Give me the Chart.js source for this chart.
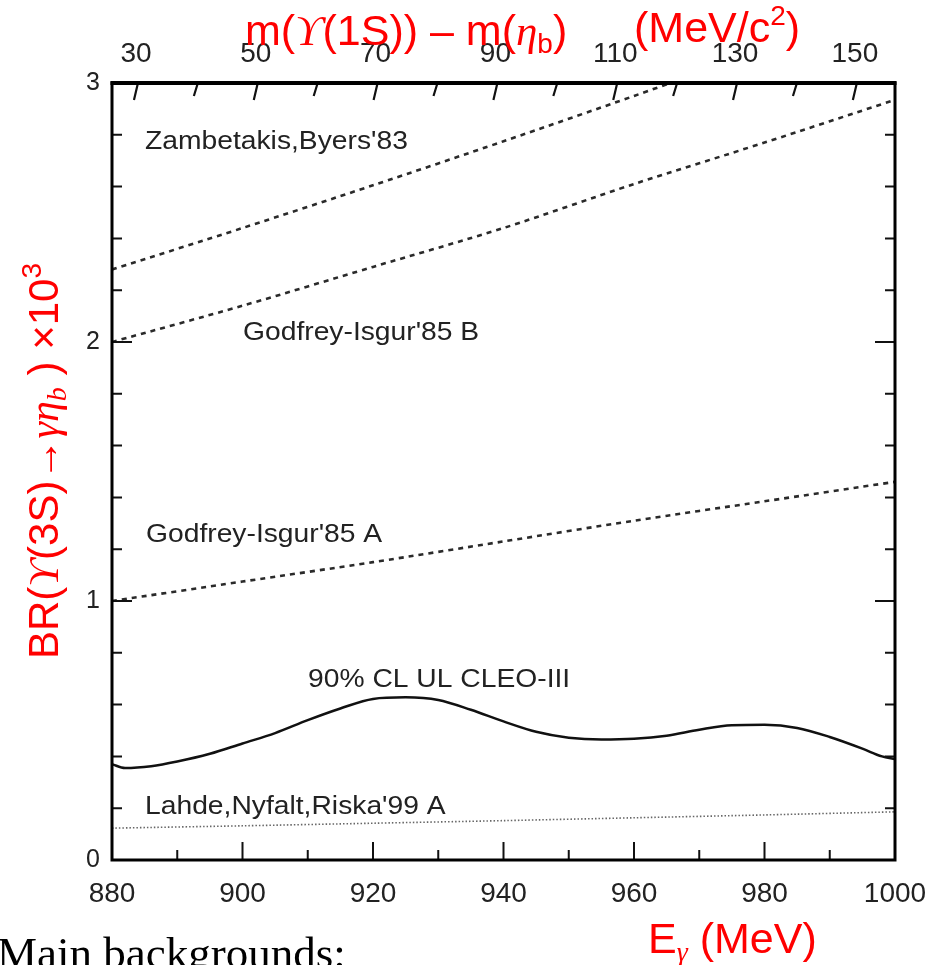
<!DOCTYPE html>
<html>
<head>
<meta charset="utf-8">
<script src="https://cdn.jsdelivr.net/npm/chart.js@4.4.1/dist/chart.umd.min.js"></script>
<style>
  html, body { margin: 0; padding: 0; background: #fff; overflow: hidden; }
  #wrap { position: relative; width: 941px; height: 965px; }
  canvas { position: absolute; left: 0; top: 0; }
  .red { position: absolute; color: #f00; font-family: "Liberation Sans", Arial, sans-serif; font-size: 43px; line-height: 1; white-space: nowrap; }
  .red i { font-family: "Liberation Serif", "Times New Roman", serif; }
  .red sub { font-size: 28px; vertical-align: -8px; line-height: 0; }
  .red sup { font-size: 28px; vertical-align: 17px; line-height: 0; }
  #ylab { left: 44px; top: 461px; font-size: 42px; transform: translate(-50%, -50%) rotate(-90deg); }
  #note { position: absolute; left: -3px; top: 931px; font-family: "Liberation Serif", "Times New Roman", serif; font-size: 45px; line-height: 1; white-space: nowrap; color: #000; }
</style>
</head>
<body>
<div id="wrap">
  <canvas id="brChart" width="941" height="965"></canvas>
  <div class="red" style="left:245px; top:9px;">m(<i>ϒ</i>(1S)) – m(<i>η</i><sub>b</sub>)</div>
  <div class="red" style="left:634px; top:6px;">(MeV/c<sup>2</sup>)</div>
  <div class="red" id="ylab">BR(<i>ϒ</i>(3S)→<i>γη</i><sub><i>b</i></sub> ) ×10<sup>3</sup></div>
  <div class="red" style="left:648px; top:917px;">E<sub><i>γ</i></sub> (MeV)</div>
  <div id="note">Main backgrounds:</div>
</div>
<script>
// photon energy grid for the model predictions (MeV)
const modelE = [880, 900, 920, 940, 960, 980, 1000];
// predicted BR x 10^3
const zambetakis = [2.28, 2.44, 2.605, 2.775, 2.95, 3.13, 3.31];
const godfreyB = [2.0, 2.14, 2.29, 2.44, 2.61, 2.77, 2.935];
const godfreyA = [1.0, 1.075, 1.15, 1.23, 1.31, 1.385, 1.46];
const lahde = [0.123, 0.132, 0.142, 0.152, 0.163, 0.174, 0.186];

// CLEO-III 90% CL upper limit
const cleoE = [880, 882, 886, 890, 895, 900, 905, 910, 915, 920, 925, 930, 935, 940, 945, 950, 955, 960, 965, 970, 975, 980, 985, 990, 995, 998, 1000];
const cleoUL = [0.37, 0.355, 0.362, 0.38, 0.41, 0.45, 0.49, 0.54, 0.585, 0.622, 0.628, 0.618, 0.58, 0.535, 0.495, 0.472, 0.465, 0.468, 0.48, 0.503, 0.52, 0.522, 0.51, 0.475, 0.43, 0.4, 0.39];

// curve labels inside the frame
const curveLabels = [
  { text: "Zambetakis,Byers'83", x: 145, y: 142 },
  { text: "Godfrey-Isgur'85 B", x: 243, y: 333 },
  { text: "Godfrey-Isgur'85 A", x: 146, y: 535 },
  { text: "90% CL UL CLEO-III", x: 308, y: 680 },
  { text: "Lahde,Nyfalt,Riska'99 A", x: 145, y: 807 }
];

const FONT = '"Liberation Sans", Arial, sans-serif';
const INK = '#222';

const toPoints = (xs, ys) => xs.map((x, i) => ({ x, y: ys[i] }));

// frame and inward tick marks
const framePlugin = {
  id: 'frame',
  afterDraw(chart) {
    const { ctx, chartArea: a, scales } = chart;
    const x = scales.x, x2 = scales.x2, y = scales.y;
    ctx.save();
    ctx.strokeStyle = '#111';
    ctx.lineWidth = 2;
    ctx.beginPath();
    for (let v = 880; v <= 1000; v += 10) {
      const px = x.getPixelForValue(v);
      const len = v % 20 === 0 ? 18 : 10;
      ctx.moveTo(px, a.bottom);
      ctx.lineTo(px, a.bottom - len);
    }
    for (let i = 0; i <= 15; i++) {
      const py = y.getPixelForValue(i * 0.2);
      const len = i % 5 === 0 ? 20 : 10;
      ctx.moveTo(a.left, py);
      ctx.lineTo(a.left + len, py);
      ctx.moveTo(a.right, py);
      ctx.lineTo(a.right - len, py);
    }
    ctx.stroke();
    // slanted ticks on the mass-difference axis
    ctx.lineWidth = 2.2;
    ctx.beginPath();
    for (let v = 30; v <= 150; v += 10) {
      const px = x2.getPixelForValue(v);
      const len = v % 20 === 10 ? 17 : 13;
      ctx.moveTo(px + 2, a.top);
      ctx.lineTo(px - 2, a.top + len);
    }
    ctx.stroke();
    ctx.strokeStyle = '#000';
    ctx.lineWidth = 3;
    ctx.strokeRect(a.left, a.top, a.right - a.left, a.bottom - a.top);
    ctx.lineWidth = 4;
    ctx.beginPath();
    ctx.moveTo(a.left - 1.5, a.top);
    ctx.lineTo(a.right + 1.5, a.top);
    ctx.stroke();
    ctx.restore();
  },
  afterDatasetsDraw(chart) {
    const { ctx } = chart;
    ctx.save();
    ctx.fillStyle = INK;
    ctx.font = '25px ' + FONT;
    ctx.textBaseline = 'middle';
    curveLabels.forEach(l => {
      ctx.save();
      ctx.translate(l.x, l.y);
      ctx.scale(1.13, 1);
      ctx.fillText(l.text, 0, 0);
      ctx.restore();
    });
    ctx.restore();
  }
};

const dashed = (data, dash, width, color) => ({
  data, borderColor: color, borderWidth: width, borderDash: dash,
  pointRadius: 0, tension: 0.3, fill: false
});

const noPad = s => { s.paddingLeft = 0; s.paddingRight = 0; };

new Chart(document.getElementById('brChart'), {
  type: 'line',
  data: {
    datasets: [
      dashed(toPoints(modelE, zambetakis), [5, 5], 2.6, '#2a2a2a'),
      dashed(toPoints(modelE, godfreyB), [5, 5], 2.6, '#2a2a2a'),
      dashed(toPoints(modelE, godfreyA), [5, 5], 2.6, '#2a2a2a'),
      dashed(toPoints(modelE, lahde), [1.5, 2], 1.6, '#666'),
      {
        data: toPoints(cleoE, cleoUL), borderColor: '#111', borderWidth: 2.5,
        pointRadius: 0, cubicInterpolationMode: 'monotone', fill: false
      }
    ]
  },
  options: {
    responsive: false,
    animation: false,
    layout: { padding: { right: 46 } },
    plugins: { legend: { display: false }, tooltip: { enabled: false } },
    scales: {
      x: {
        type: 'linear', position: 'bottom', min: 880, max: 1000,
        ticks: {
          stepSize: 20, autoSkip: false, maxRotation: 0, color: INK, padding: 17,
          font: { family: FONT, size: 28 },
          callback: v => String(v)
        },
        grid: { display: false, drawTicks: false },
        border: { display: false },
        afterFit: s => { s.height = 105; noPad(s); }
      },
      x2: {
        type: 'linear', position: 'top', min: 26, max: 156.7,
        ticks: {
          stepSize: 10, includeBounds: false, autoSkip: false, maxRotation: 0, color: INK, padding: 12,
          font: { family: FONT, size: 28 },
          callback: v => (v % 20 === 10 ? String(v) : '')
        },
        grid: { display: false, drawTicks: false },
        border: { display: false },
        afterFit: s => { s.height = 83; noPad(s); }
      },
      y: {
        min: 0, max: 3,
        ticks: { stepSize: 1, color: INK, padding: 12, font: { family: FONT, size: 25 } },
        grid: { display: false, drawTicks: false },
        border: { display: false },
        afterFit: s => { s.width = 112; }
      }
    }
  },
  plugins: [framePlugin]
});
</script>
</body>
</html>
